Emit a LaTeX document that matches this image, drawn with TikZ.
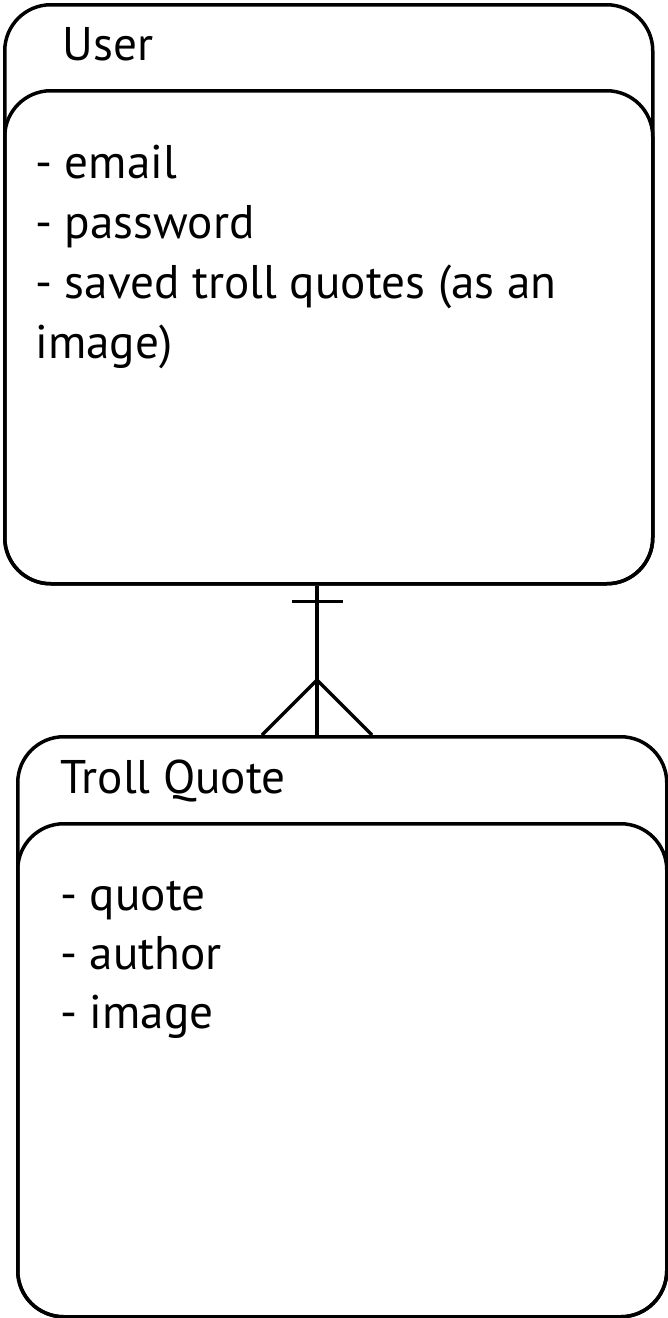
\documentclass[tikz,border=0pt]{standalone}
\usepackage{fontspec}
\setmainfont{PT Sans}
\usepackage{tikz}
\usetikzlibrary{positioning,calc}

\tikzset{
  entity/.style={draw, line width=1.75pt, rounded corners=23pt, inner sep=0pt,
                 anchor=north west, minimum width=324pt},
  label/.style={anchor=base west, inner sep=0pt, font=\fontsize{23.6}{30}\selectfont},
  link/.style={line width=1.75pt}
}

\begin{document}
\begin{tikzpicture}[x=0.5pt,y=-0.5pt]
    \useasboundingbox (0,0) rectangle (668,1318);

    % User
    \node[entity, minimum height=289.5pt] (user) at (3,3) {};
    \node[entity, minimum height=246.5pt] (userattr) at (3,89) {};
    \node[label] (usertitle) at (62,60) {User};
    \node[label] (email) at (35,178) {- email};
    \node[label] (password) at (35,238) {- password};
    \node[label] (saved) at (35,298) {- saved troll quotes (as an};
    \node[label] (savedimg) at (35,358) {image)};

    % Troll Quote
    \node[entity, minimum width=324.5pt, minimum height=290pt] (quote) at (16,735) {};
    \node[entity, minimum width=324.5pt, minimum height=246.5pt] (quoteattr) at (16,822) {};
    \node[label] (quotetitle) at (60,793) {Troll Quote};
    \node[label] (qtext) at (60,910) {- quote};
    \node[label] (qauthor) at (60,969) {- author};
    \node[label] (qimage) at (60,1028) {- image};

    % one user -- many troll quotes
    \coordinate (axis) at (317,0);
    \coordinate (one) at (user.south -| axis);
    \coordinate (many) at (quote.north -| axis);
    \draw[link] (one) -- (many);
    \draw[link] ($(one)+(-25,16)$) -- ($(one)+(26,16)$);
    \draw[link] ($(many)+(-55,0)$) -- ($(many)+(0,-55)$) -- ($(many)+(55,0)$);
\end{tikzpicture}
\end{document}
